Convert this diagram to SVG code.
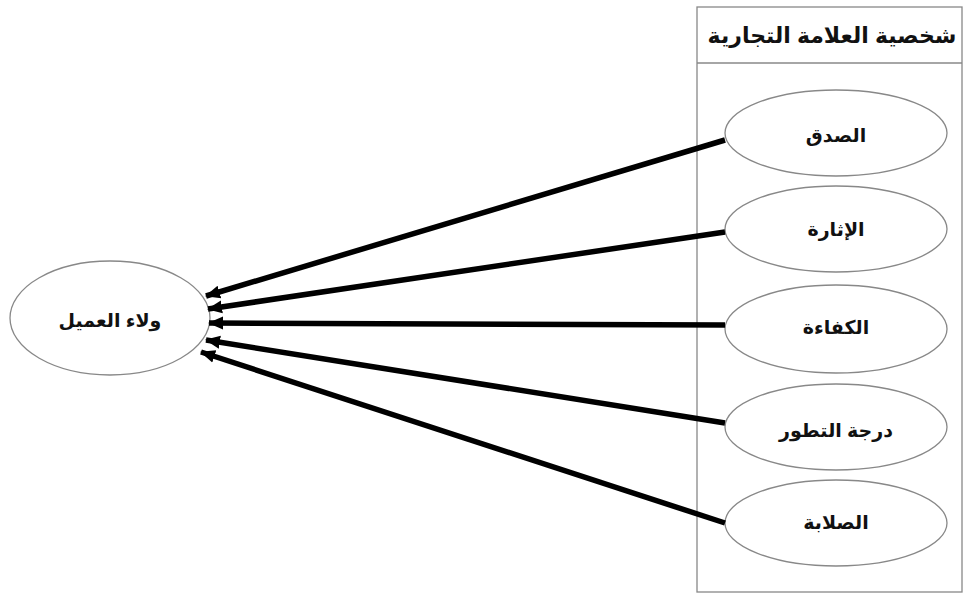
<svg xmlns="http://www.w3.org/2000/svg" width="967" height="596" viewBox="0 0 967 596">
<style>
.node ellipse{fill:#fff;stroke:#888;stroke-width:1.3}
.lbl{font-family:"Liberation Sans","DejaVu Sans",sans-serif;font-weight:bold;font-size:19px;fill:#111;text-anchor:middle;dominant-baseline:central}
.conn line{stroke:#000;stroke-width:5.5}
</style>
<defs>
<marker id="ah" markerUnits="userSpaceOnUse" markerWidth="16" markerHeight="16" viewBox="0 0 16 16" refX="14" refY="8" orient="auto">
<path d="M0,1.5 L15,8 L0,14.5 z" fill="#000"/>
</marker>
</defs>
<rect width="967" height="596" fill="#fff"/>
<g id="container">
<rect x="697" y="7" width="265" height="585" fill="none" stroke="#888" stroke-width="1.3"/>
<line x1="697" y1="63" x2="962" y2="63" stroke="#888" stroke-width="1.3"/>
<text class="lbl" x="832" y="35" style="font-size:22px" direction="rtl">شخصية العلامة التجارية</text>
</g>
<g id="n-sidq" class="node"><ellipse cx="836" cy="133" rx="111" ry="43"/><text class="lbl" x="836" y="135" direction="rtl">الصدق</text></g>
<g id="n-ithara" class="node"><ellipse cx="836" cy="229" rx="111" ry="43"/><text class="lbl" x="836" y="229" direction="rtl">الإثارة</text></g>
<g id="n-kafaa" class="node"><ellipse cx="836" cy="329" rx="111" ry="44"/><text class="lbl" x="836" y="327" direction="rtl">الكفاءة</text></g>
<g id="n-tatawor" class="node"><ellipse cx="836" cy="427" rx="111" ry="43"/><text class="lbl" x="836" y="430" direction="rtl">درجة التطور</text></g>
<g id="n-salaba" class="node"><ellipse cx="836" cy="523" rx="111" ry="43"/><text class="lbl" x="836" y="522" direction="rtl">الصلابة</text></g>
<g id="n-wala" class="node"><ellipse cx="110" cy="318" rx="100" ry="57"/><text class="lbl" x="110" y="320" direction="rtl">ولاء العميل</text></g>
<g id="connectors" class="conn">
<line x1="725" y1="140" x2="206" y2="296" marker-end="url(#ah)"/>
<line x1="725" y1="232" x2="208" y2="309" marker-end="url(#ah)"/>
<line x1="725" y1="325" x2="209" y2="323" marker-end="url(#ah)"/>
<line x1="725" y1="423" x2="206" y2="340" marker-end="url(#ah)"/>
<line x1="725" y1="523" x2="201" y2="352" marker-end="url(#ah)"/>
</g>
</svg>
